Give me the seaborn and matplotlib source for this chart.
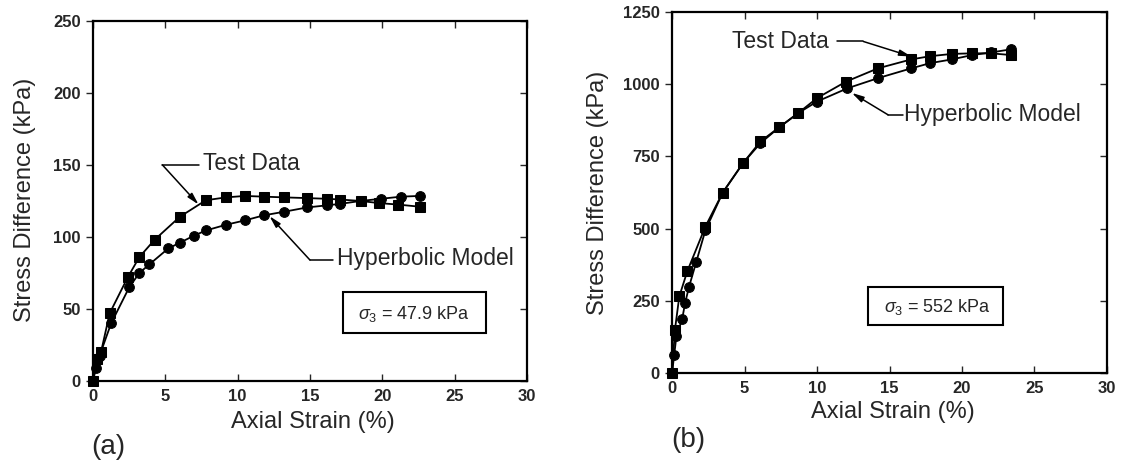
import matplotlib
matplotlib.use("Agg")
import matplotlib.pyplot as plt
import seaborn as sns
import pandas as pd
from matplotlib.patches import Rectangle

# ---------------- data ----------------
a_test_x = [0, 0.25, 0.55, 1.15, 2.4, 3.2, 4.25, 6.0, 7.8, 9.2, 10.5, 11.8, 13.2, 14.8, 16.2, 17.1, 18.5, 19.8, 21.1, 22.6]
a_test_y = [0, 15, 20, 47, 72, 86, 98, 114, 125.5, 127.5, 128.5, 128, 127.5, 127, 126.5, 126, 125, 123.5, 122.5, 121]
a_model_x = [0, 0.2, 0.45, 1.25, 2.5, 3.2, 3.9, 5.2, 6.0, 7.0, 7.8, 9.2, 10.5, 11.8, 13.2, 14.8, 16.2, 17.1, 18.5, 19.9, 21.3, 22.6]
a_model_y = [0, 9, 17.5, 40, 65, 75, 81, 92, 96, 101, 104.5, 108.5, 111.5, 115, 117.5, 120.5, 122, 123, 125, 126.5, 128, 128.5]

b_test_x = [0, 0.2, 0.5, 1.05, 2.3, 3.5, 4.9, 6.1, 7.4, 8.7, 10.0, 12.0, 14.2, 16.5, 17.8, 19.3, 20.7, 22.0, 23.4]
b_test_y = [0, 150, 265, 352, 507, 625, 727, 802, 851, 900, 952, 1009, 1055, 1086, 1097, 1105, 1107, 1107, 1101]
b_model_x = [0, 0.15, 0.3, 0.7, 0.9, 1.17, 1.66, 2.3, 3.5, 4.9, 6.1, 7.4, 8.7, 10.0, 12.1, 14.2, 16.5, 17.8, 19.3, 20.7, 22.0, 23.4]
b_model_y = [0, 63, 127, 187, 242, 298, 383, 494, 625, 727, 796, 851, 900, 940, 986, 1021, 1055, 1073, 1086, 1101, 1110, 1121]

x_ticks = [0, 5, 10, 15, 20, 25, 30]
a_y_ticks = [0, 50, 100, 150, 200, 250]
b_y_ticks = [0, 250, 500, 750, 1000, 1250]

xlabel = "Axial Strain (%)"
ylabel = "Stress Difference (kPa)"
a_box_text = r"$\sigma_3$ = 47.9 kPa"
b_box_text = r"$\sigma_3$ = 552 kPa"

# ---------------- style ----------------
sns.set_style("ticks")
plt.rcParams["font.family"] = ["Liberation Sans", "DejaVu Sans"]
plt.rcParams["mathtext.fontset"] = "custom"
plt.rcParams["mathtext.rm"] = "Liberation Sans"
plt.rcParams["mathtext.it"] = "Liberation Sans:italic"

fig = plt.figure(figsize=(11.21, 4.70), dpi=100)
axA = fig.add_axes([0.083, 0.1894, 0.387, 0.766])
axB = fig.add_axes([0.5995, 0.2064, 0.388, 0.768])

arrow_kw = dict(arrowstyle="-|>,head_length=0.7,head_width=0.18", color="black",
                lw=1.1, shrinkA=0, shrinkB=0)


def draw_panel(ax, tx, ty, mx, my, yticks, ymax):
    df_t = pd.DataFrame({"x": tx, "y": ty})
    df_m = pd.DataFrame({"x": mx, "y": my})
    sns.lineplot(data=df_t, x="x", y="y", ax=ax, color="black", marker="s",
                 markersize=6.5, markeredgecolor="black", linewidth=1.3, sort=False)
    sns.lineplot(data=df_m, x="x", y="y", ax=ax, color="black", marker="o",
                 markersize=7, markeredgecolor="black", linewidth=1.3, sort=False)
    for ln in ax.lines:
        ln.set_clip_on(False)
        ln.set_zorder(5)
    ax.set_xlim(0, 30)
    ax.set_ylim(0, ymax)
    ax.set_xticks(x_ticks)
    ax.set_yticks(yticks)
    for s in ax.spines.values():
        s.set_linewidth(1.6)
        s.set_color("black")
    ax.tick_params(axis="x", direction="in", top=True, length=5, width=1, labelsize=12, pad=6)
    ax.tick_params(axis="y", which="both", left=True, right=True, length=5, width=1,
                   labelsize=12, pad=4)
    ax.tick_params(axis="y", direction="out")
    for t in ax.yaxis.get_major_ticks():
        t.tick2line.set_marker(matplotlib.lines.TICKLEFT)
    for lab in ax.get_xticklabels() + ax.get_yticklabels():
        lab.set_fontweight("bold")
    ax.set_xlabel(xlabel, fontsize=17)
    ax.set_ylabel(ylabel, fontsize=17)
    ax.xaxis.label.set_va("center")
    ax.yaxis.label.set_va("center")
    ax.yaxis.label.set_ha("center")


draw_panel(axA, a_test_x, a_test_y, a_model_x, a_model_y, a_y_ticks, 250)
draw_panel(axB, b_test_x, b_test_y, b_model_x, b_model_y, b_y_ticks, 1250)

axA.xaxis.set_label_coords(0.507, -0.114)
axA.yaxis.set_label_coords(-0.157, 0.503)
axB.xaxis.set_label_coords(0.508, -0.108)
axB.yaxis.set_label_coords(-0.170, 0.50)

# ---------- panel (a) annotations ----------
axA.text(7.6, 151, "Test Data", fontsize=16.5, va="center", ha="left")
axA.plot([7.3, 4.8], [150, 150], color="black", lw=1.1)
axA.annotate("", xy=(7.3, 122.5), xytext=(4.8, 150), arrowprops=arrow_kw)

axA.text(16.9, 85, "Hyperbolic Model", fontsize=16.5, va="center", ha="left")
axA.plot([16.6, 15.0], [84, 84], color="black", lw=1.1)
axA.annotate("", xy=(12.2, 114.5), xytext=(15.0, 84), arrowprops=arrow_kw)

axA.add_patch(Rectangle((17.3, 33), 9.9, 29, fill=False, edgecolor="black", lw=1.5))
axA.text(22.2, 46.5, a_box_text, fontsize=13, ha="center", va="center")

# ---------- panel (b) annotations ----------
axB.text(4.15, 1148, "Test Data", fontsize=16.5, va="center", ha="left")
axB.plot([11.4, 13.2], [1148, 1148], color="black", lw=1.1)
axB.annotate("", xy=(16.5, 1096), xytext=(13.2, 1148), arrowprops=arrow_kw)

axB.text(16.0, 894, "Hyperbolic Model", fontsize=16.5, va="center", ha="left")
axB.plot([15.9, 14.9], [894, 894], color="black", lw=1.1)
axB.annotate("", xy=(12.4, 970), xytext=(14.9, 894), arrowprops=arrow_kw)

axB.add_patch(Rectangle((13.5, 167), 9.3, 131, fill=False, edgecolor="black", lw=1.5))
axB.text(18.3, 228, b_box_text, fontsize=13, ha="center", va="center")

fig.text(0.097, 0.049, "(a)", fontsize=20, ha="center", va="center")
fig.text(0.614, 0.064, "(b)", fontsize=20, ha="center", va="center")

fig.savefig("out.png", dpi=100, facecolor="white")
